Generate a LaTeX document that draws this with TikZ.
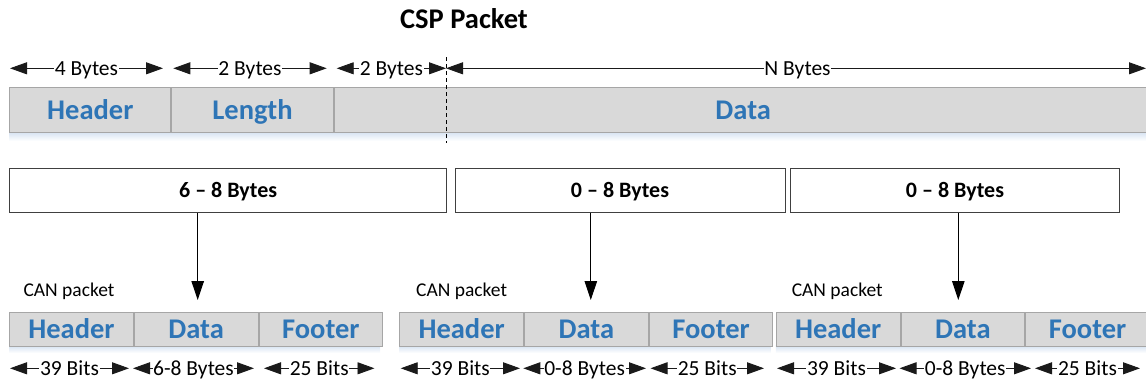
\documentclass[tikz,border=0pt]{standalone}
\usepackage{fontspec}
\setmainfont{Carlito}
\usetikzlibrary{arrows.meta}
\definecolor{barfill}{HTML}{D9D9D9}
\definecolor{barline}{HTML}{A6A6A6}
\definecolor{lblue}{HTML}{2E75B6}
\definecolor{shblue}{HTML}{D6E3F2}
\definecolor{boxline}{HTML}{404040}
\definecolor{dimline}{HTML}{1A1A1A}
\begin{document}
\begin{tikzpicture}[x=1pt,y=-1pt,
  seg/.style={draw=barline, line width=1pt, fill=barfill, anchor=north west,
    inner sep=0pt, font=\fontsize{28.5}{30}\selectfont\bfseries, text=lblue,
    text height=18.4pt, text depth=0pt},
  topseg/.style={seg, minimum height=44.7pt},
  canseg/.style={seg, minimum width=123.7pt, minimum height=34pt},
  midbox/.style={draw=boxline, line width=1pt, fill=white, anchor=north west,
    minimum height=44pt, inner sep=0pt, font=\fontsize{22}{24}\selectfont\bfseries,
    text height=14.2pt, text depth=0pt},
  dimlbl/.style={fill=white, inner xsep=0.6pt, inner ysep=0pt,
    font=\fontsize{21.5}{23}\selectfont, text height=13.6pt, text depth=0pt},
  dimarrow/.style={{Triangle[length=17pt,width=12pt]}-{Triangle[length=17pt,width=12pt]},
    line width=0.9pt, draw=dimline},
  downarrow/.style={-{Triangle[length=19pt,width=12.5pt]}, line width=1pt, draw=black},
  canlbl/.style={anchor=base west, inner sep=0pt, font=\fontsize{19.5}{21}\selectfont},
  shadowband/.style={top color=shblue, bottom color=white, draw=none}
]
\useasboundingbox (0,0) rectangle (1146,383);

% title
\node[anchor=base, inner sep=0pt, font=\fontsize{28.5}{30}\selectfont\bfseries] (title) at (464,28.3) {CSP Packet};

% ---------- CSP packet bar ----------
\shade[shadowband] (9.3,132) rectangle (1146,141);
\node[topseg, minimum width=161pt] (hdr) at (9.3,87.3) {Header};
\node[topseg, minimum width=161.4pt] (len) at (hdr.north east) {Length};
\node[topseg, minimum width=818pt] (dat) at (len.north east) {Data};

% dashed separator
\coordinate (dsT) at (446,57);
\coordinate (dsB) at (446,143);
\draw[dashed, dash pattern=on 4pt off 3pt, line width=0.8pt] (dsT) -- (dsB);

% top dimension arrows
\coordinate (t0) at (10,68.3);
\coordinate (t1) at (163,68.3);
\coordinate (t2) at (173.3,68.3);
\coordinate (t3) at (326.7,68.3);
\coordinate (t4) at (336.7,68.3);
\coordinate (t5) at (446,68.3);
\coordinate (t6) at (1146,68.3);
\draw[dimarrow] (t0) -- node[dimlbl] {4 Bytes} (t1);
\draw[dimarrow] (t2) -- node[dimlbl] {2 Bytes} (t3);
\draw[dimarrow] (t4) -- node[dimlbl] {2 Bytes} (t5);
\draw[dimarrow] (t5) -- node[dimlbl, xshift=1.5pt] {N Bytes} (t6);

% ---------- fragment boxes ----------
\node[midbox, minimum width=436.7pt] (f1) at (9.3,168.3) {6 \textendash{} 8 Bytes};
\node[midbox, minimum width=330pt] (f2) at (454.5,168.3) {0 \textendash{} 8 Bytes};
\node[midbox, minimum width=329.6pt] (f3) at (789.7,168.3) {0 \textendash{} 8 Bytes};

% ---------- CAN packets ----------
\shade[shadowband] (9.1,345.7) rectangle (380.2,353);
\shade[shadowband] (399.3,345.7) rectangle (770.4,353);
\shade[shadowband] (775.8,345.7) rectangle (1146,353);

\node[canseg] (p1h) at (9.1,311.7) {Header};
\node[canseg] (p1d) at (p1h.north east) {Data};
\node[canseg] (p1f) at (p1d.north east) {Footer};

\node[canseg] (p2h) at (399.3,311.7) {Header};
\node[canseg] (p2d) at (p2h.north east) {Data};
\node[canseg] (p2f) at (p2d.north east) {Footer};

\node[canseg] (p3h) at (775.8,311.7) {Header};
\node[canseg] (p3d) at (p3h.north east) {Data};
\node[canseg] (p3f) at (p3d.north east) {Footer};

\node[canlbl] (c1) at (23.3,296.5) {CAN packet};
\node[canlbl] (c2) at (416,296.2) {CAN packet};
\node[canlbl] (c3) at (791.6,296.2) {CAN packet};

% down arrows
\coordinate (a1) at (197.7,300);
\coordinate (a2) at (590.8,300);
\coordinate (a3) at (958.3,300);
\draw[downarrow] (f1.south -| a1) -- (a1);
\draw[downarrow] (f2.south -| a2) -- (a2);
\draw[downarrow] (f3.south -| a3) -- (a3);

% bottom dimension arrows
\foreach \n/\a/\b/\t in {
  b1/10/129/39 Bits, b2/133/254/6-8 Bytes, b3/264/374.5/25 Bits,
  b4/400.7/520/39 Bits, b5/523.3/646/0-8 Bytes, b6/650.5/764/25 Bits,
  b7/777/896/39 Bits, b8/899.5/1031/0-8 Bytes, b9/1035/1140/25 Bits}{
  \coordinate (\n L) at (\a,368.3);
  \coordinate (\n R) at (\b,368.3);
  \draw[dimarrow] (\n L) -- node[dimlbl] {\t} (\n R);
}
\end{tikzpicture}
\end{document}
